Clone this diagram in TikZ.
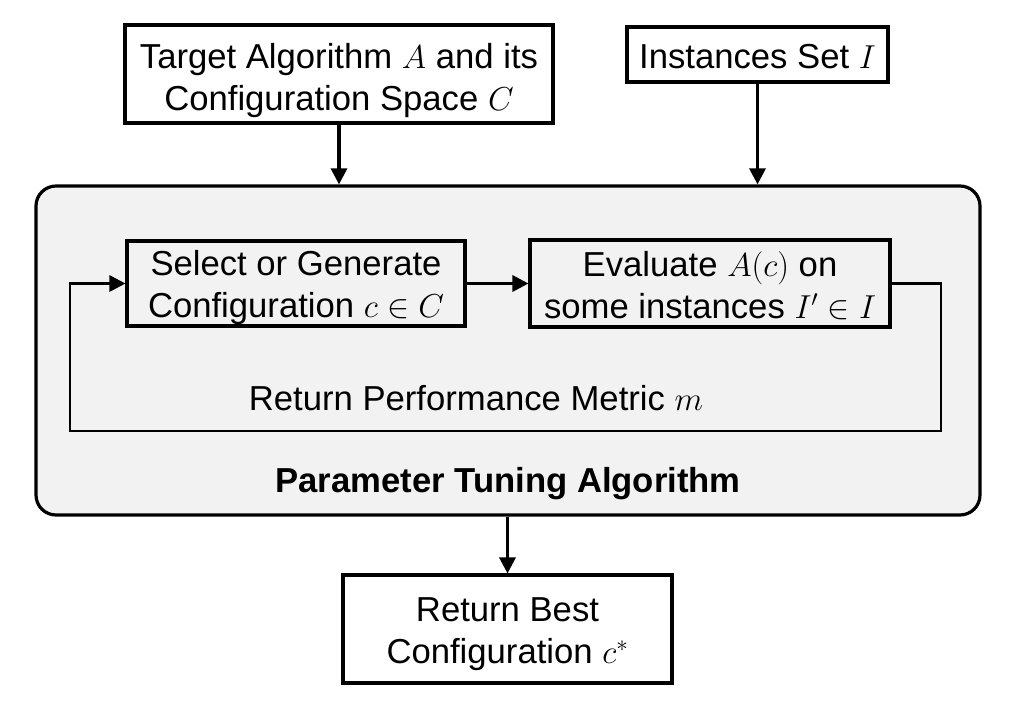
\documentclass[tikz,border=0pt]{standalone}
\usepackage{fontspec}
\setmainfont{Liberation Sans}
\usetikzlibrary{arrows.meta}
\definecolor{panel}{HTML}{F2F2F2}
\begin{document}
\begin{tikzpicture}[x=0.75pt,y=-0.75pt,
  every node/.style={font=\fontsize{26}{31.5}\selectfont},
  box/.style={draw, line width=2.3pt, inner sep=0pt},
  txt/.style={align=center, inner sep=0pt},
  arr/.style={line width=2.3pt, -{Triangle[length=12pt,width=12pt]}},
  loopline/.style={line width=2.1pt, -{Triangle[length=12pt,width=12pt]}}
]
\useasboundingbox (0,0) rectangle (1010,707);
% outer panel
\node[draw, line width=2.4pt, fill=panel, rounded corners=15pt, inner sep=0pt,
      minimum width=708pt, minimum height=246.75pt] (big) at (508,350.5) {};
% top boxes
\node[box, fill=white, minimum width=321pt, minimum height=73.5pt] (tl) at (339,74) {};
\node[txt] (tltext) at (339,81) {Target Algorithm $A$ and its\\Configuration Space $C$};
\node[box, fill=white, minimum width=195.75pt, minimum height=41.25pt] (inst) at (757.5,54.5) {};
\node[txt] (insttext) at (757.5,56.5) {Instances Set $I$};
% inner boxes
\node[box, minimum width=253.5pt, minimum height=63.75pt] (sel) at (296,283.5) {};
\node[txt] (seltext) at (296,287.5) {Select or Generate\\Configuration $c\in C$};
\node[box, minimum width=270pt, minimum height=65.25pt] (eval) at (710,283.5) {};
\node[txt] (evaltext) at (710,286) {Evaluate $A(c)$ on\\some instances $I'\in I$};
% bottom box
\node[box, fill=white, minimum width=246.75pt, minimum height=81pt] (bot) at (507.5,629) {};
\node[txt] (bottext) at (507.5,634) {Return Best\\Configuration $c^{*}$};
% labels
\node (ret) at (476,398) {Return Performance Metric $m$};
\node[font=\fontsize{26}{31.5}\selectfont\bfseries] (pta) at (508,484) {Parameter Tuning Algorithm};
% connectors
\coordinate (lr) at (941,431);
\coordinate (ll) at (70,431);
\draw[arr] (tl.south) -- (tl.south |- big.north);
\draw[arr] (inst.south) -- (inst.south |- big.north);
\draw[arr] (sel.east) -- (eval.west);
\draw[loopline] (eval.east) -| (lr) -- (ll) |- (sel.west);
\draw[arr] (big.south -| bot.north) -- (bot.north);
\end{tikzpicture}
\end{document}
